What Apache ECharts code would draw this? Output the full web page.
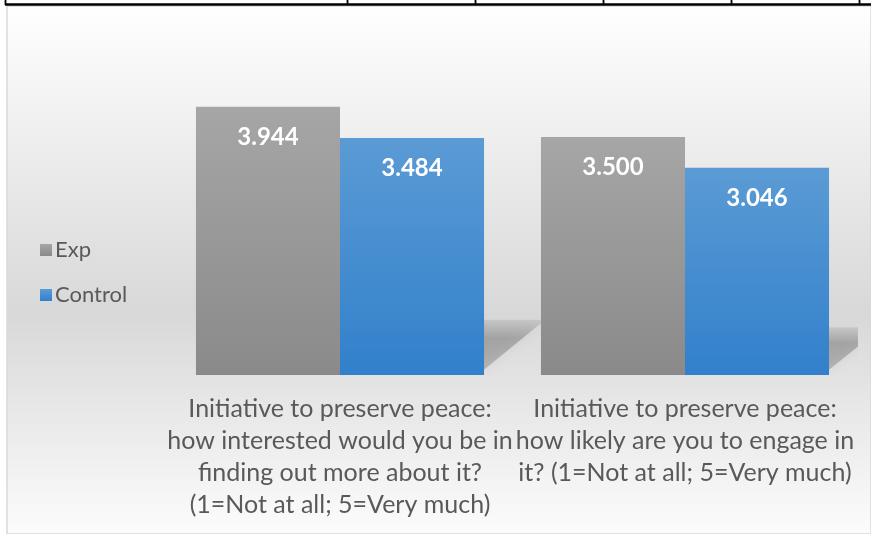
<!DOCTYPE html>
<html>
<head>
<meta charset="utf-8">
<script src="https://cdn.jsdelivr.net/npm/echarts@6/dist/echarts.min.js"></script>
<style>
html,body{margin:0;padding:0;background:#ffffff;}
#chart{width:871px;height:534px;}
</style>
</head>
<body>
<div id="chart"></div>
<script>
const categories = [
  "Initiative to preserve peace:\nhow interested would you be in\nfinding out more about it?\n(1=Not at all; 5=Very much)",
  "Initiative to preserve peace:\nhow likely are you to engage in\nit? (1=Not at all; 5=Very much)"
];
const seriesNames = ["Exp", "Control"];
const expValues = [3.944, 3.500];
const controlValues = [3.484, 3.046];
const tableColumnX = [5, 347, 475, 603, 731, 859];

const FONT = "Lato, 'Liberation Sans', sans-serif";
const BAR_GAP_CAT = 0.165;

const grayGrad = new echarts.graphic.LinearGradient(0, 0, 0, 1, [
  {offset: 0, color: '#a6a6a6'}, {offset: 1, color: '#8a8a8a'}
]);
const blueGrad = new echarts.graphic.LinearGradient(0, 0, 0, 1, [
  {offset: 0, color: '#5b9bd5'}, {offset: 1, color: '#3280cb'}
]);

function shadowRenderer(sideIndex) {
  return function (params, api) {
    const i = api.value(0), v = api.value(1);
    const base = api.coord([i, 0]);
    const top = api.coord([i, v]);
    const band = api.size([1, 0])[0];
    const bw = band * (1 - BAR_GAP_CAT) / 2;
    const xl = base[0] - bw + sideIndex * bw;
    const xr = xl + bw;
    const y0 = base[1];
    const h = y0 - top[1];
    const sh = h * 0.25;
    const dx = sh * 1.1;
    return {
      type: 'polygon',
      shape: {points: [[xl, y0 - 2], [xr - 4, y0 - 2], [xr + dx - 4, y0 - sh + 4], [xl + dx, y0 - sh + 4]]},
      style: {
        fill: new echarts.graphic.LinearGradient(0, 0, 0, 1, [
          {offset: 0, color: 'rgba(0,0,0,0.08)'},
          {offset: 0.35, color: 'rgba(0,0,0,0.22)'},
          {offset: 1, color: 'rgba(0,0,0,0.18)'}
        ]),
        shadowBlur: 12,
        shadowColor: 'rgba(0,0,0,0.25)'
      }
    };
  };
}

const graphics = [
  {type: 'rect', z: -10, shape: {x: 7, y: 6, width: 864, height: 528},
   style: {fill: new echarts.graphic.LinearGradient(0, 0, 0, 1, [
     {offset: 0, color: '#ffffff'}, {offset: 0.58, color: '#d8d8d8'}, {offset: 1, color: '#fcfcfc'}
   ]), stroke: '#d9d9d9', lineWidth: 1.5}},
  {type: 'line', z: 10, shape: {x1: 5, y1: 4.5, x2: 871, y2: 4.5}, style: {stroke: '#000', lineWidth: 2.5}}
];
tableColumnX.forEach(function (x) {
  graphics.push({type: 'line', z: 10, shape: {x1: x + 0.5, y1: 0, x2: x + 0.5, y2: 5}, style: {stroke: '#000', lineWidth: 1.8}});
});

const chart = echarts.init(document.getElementById('chart'));
chart.setOption({
  animation: false,
  backgroundColor: '#ffffff',
  graphic: graphics,
  legend: {
    orient: 'vertical',
    left: 35,
    top: 233,
    itemWidth: 12,
    itemHeight: 12,
    itemGap: 21,
    icon: 'rect',
    data: seriesNames,
    textStyle: {fontFamily: FONT, fontSize: 22, color: '#595959', lineHeight: 24, padding: [0, 0, 0, -2]}
  },
  grid: {left: 167.5, right: 13.5, top: 35, bottom: 159, containLabel: false},
  xAxis: {
    type: 'category',
    data: categories,
    axisLine: {show: false},
    axisTick: {show: false},
    axisLabel: {
      interval: 0,
      margin: 18,
      fontFamily: FONT,
      fontSize: 25,
      lineHeight: 32,
      color: '#595959',
      align: 'center'
    }
  },
  yAxis: {type: 'value', min: 0, max: 5, show: false, splitLine: {show: false}},
  series: [
    {
      type: 'custom', name: 'expShadow', z: 1, clip: true, silent: true,
      renderItem: shadowRenderer(0),
      data: expValues.map(function (v, i) { return [i, v]; })
    },
    {
      type: 'custom', name: 'controlShadow', z: 1, clip: true, silent: true,
      renderItem: shadowRenderer(1),
      data: controlValues.map(function (v, i) { return [i, v]; })
    },
    {
      name: seriesNames[0], type: 'bar', z: 2,
      barGap: '0%', barCategoryGap: (BAR_GAP_CAT * 100) + '%',
      data: expValues,
      itemStyle: {color: grayGrad},
      label: {show: true, position: 'insideTop', distance: 18, color: '#ffffff', fontFamily: FONT,
              fontWeight: 'bold', fontSize: 24, lineHeight: 24,
              formatter: function (p) { return p.value.toFixed(3); }}
    },
    {
      name: seriesNames[1], type: 'bar', z: 2,
      barGap: '0%', barCategoryGap: (BAR_GAP_CAT * 100) + '%',
      data: controlValues,
      itemStyle: {color: blueGrad},
      label: {show: true, position: 'insideTop', distance: 18, color: '#ffffff', fontFamily: FONT,
              fontWeight: 'bold', fontSize: 24, lineHeight: 24,
              formatter: function (p) { return p.value.toFixed(3); }}
    }
  ]
});
</script>
</body>
</html>
